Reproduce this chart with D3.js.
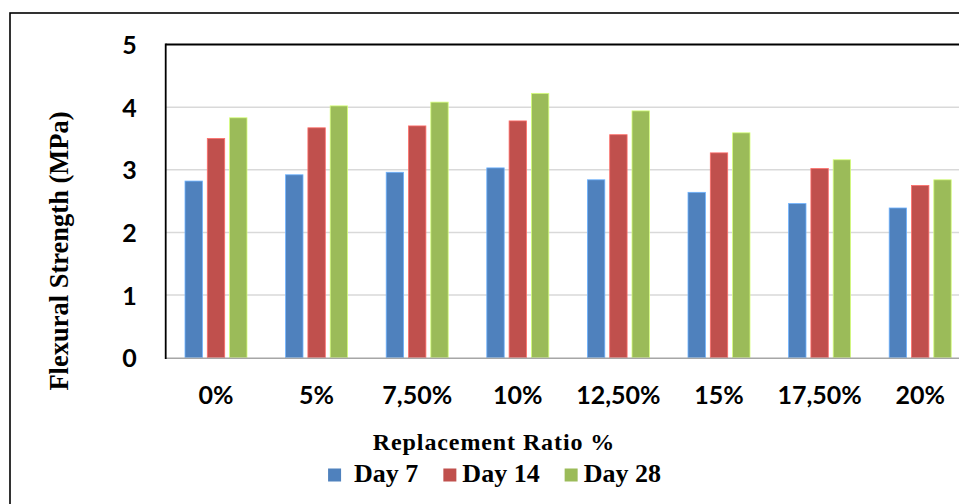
<!DOCTYPE html>
<html>
<head>
<meta charset="utf-8">
<script src="https://cdn.jsdelivr.net/npm/d3@7"></script>
<style>
  html, body { margin: 0; padding: 0; background: #fff; }
  svg { display: block; }
</style>
</head>
<body>
<svg id="chart" width="959" height="504"></svg>
<script>
// Replacement ratios (x categories)
const categories = ["0%", "5%", "7,50%", "10%", "12,50%", "15%", "17,50%", "20%"];
// Curing ages
const seriesNames = ["Day 7", "Day 14", "Day 28"];
// Flexural strength (MPa) per curing age
const day7  = [2.82, 2.92, 2.96, 3.03, 2.84, 2.64, 2.46, 2.39];
const day14 = [3.50, 3.67, 3.70, 3.78, 3.56, 3.27, 3.02, 2.75];
const day28 = [3.83, 4.02, 4.08, 4.22, 3.94, 3.59, 3.16, 2.84];
const yTicks = [0, 1, 2, 3, 4, 5];
const colors = ["#4F81BD", "#C0504D", "#9BBB59"];

const seriesValues = [day7, day14, day28];
const rows = categories.map((c, i) => ({
  cat: c,
  vals: seriesNames.map((s, k) => ({ series: s, k, value: seriesValues[k][i] }))
}));

const svg = d3.select("#chart");
const W = 959, H = 504;

// outer chart frame (runs past the right and bottom edges)
svg.append("rect")
  .attr("x", 10).attr("y", 13)
  .attr("width", W + 20).attr("height", H + 20)
  .attr("fill", "#fff").attr("stroke", "#000").attr("stroke-width", 1.6);

const plot = { left: 165.7, top: 44.5, right: 970.5, bottom: 357.7 };

const x0 = d3.scaleBand().domain(categories).range([plot.left, plot.right]).padding(0);
const groupW = 62;
const x1 = d3.scaleBand().domain(seriesNames)
  .range([(x0.bandwidth() - groupW) / 2, (x0.bandwidth() + groupW) / 2])
  .paddingInner(0.22).paddingOuter(0);
const y = d3.scaleLinear().domain([0, 5]).range([plot.bottom, plot.top]);

// gridlines
svg.append("g")
  .selectAll("line")
  .data(yTicks.filter(t => t > 0 && t < 5))
  .join("line")
  .attr("x1", plot.left).attr("x2", plot.right)
  .attr("y1", d => y(d)).attr("y2", d => y(d))
  .attr("stroke", "#d9d9d9").attr("stroke-width", 1.5);

// bars
const groups = svg.append("g")
  .selectAll("g")
  .data(rows)
  .join("g")
  .attr("transform", d => `translate(${x0(d.cat)},0)`);

groups.selectAll("rect")
  .data(d => d.vals)
  .join("rect")
  .attr("x", d => x1(d.series))
  .attr("y", d => y(d.value))
  .attr("width", x1.bandwidth())
  .attr("height", d => y(0) - y(d.value))
  .attr("fill", d => colors[d.k])
  .attr("stroke", d => d3.color(colors[d.k]).brighter(0.9))
  .attr("stroke-width", 0.8);

// plot frame: top and left dark, baseline grey
svg.append("line")
  .attr("x1", plot.left).attr("x2", plot.right)
  .attr("y1", plot.top).attr("y2", plot.top)
  .attr("stroke", "#000").attr("stroke-width", 1.8);
svg.append("line")
  .attr("x1", plot.left).attr("x2", plot.right)
  .attr("y1", plot.bottom + 0.5).attr("y2", plot.bottom + 0.5)
  .attr("stroke", "#a6a6a6").attr("stroke-width", 1.6);
svg.append("line")
  .attr("x1", plot.left).attr("x2", plot.left)
  .attr("y1", plot.top - 0.9).attr("y2", plot.bottom + 1.3)
  .attr("stroke", "#000").attr("stroke-width", 1.8);

// y axis labels
const yAxis = d3.axisLeft(y).tickValues(yTicks).tickSize(0).tickPadding(29).tickFormat(d3.format("d"));
const gy = svg.append("g").attr("transform", `translate(${plot.left},0)`).call(yAxis);
gy.select(".domain").remove();
gy.selectAll("text")
  .attr("font-family", "Lato, 'Open Sans', sans-serif")
  .attr("font-weight", "bold").attr("font-size", 25).attr("fill", "#000")
  .attr("dy", "0.36em");

// x axis labels
const xAxis = d3.axisBottom(x0).tickSize(0).tickPadding(29);
const gx = svg.append("g").attr("transform", `translate(0,${plot.bottom})`).call(xAxis);
gx.select(".domain").remove();
gx.selectAll("text")
  .attr("font-family", "Lato, 'Open Sans', sans-serif")
  .attr("font-weight", "bold").attr("font-size", 25).attr("fill", "#000")
  .attr("dy", "0.71em");

// axis titles
svg.append("text")
  .attr("transform", "translate(68,251) rotate(-90)")
  .attr("text-anchor", "middle")
  .attr("font-family", "'Liberation Serif', 'Times New Roman', serif")
  .attr("font-weight", "bold").attr("font-size", 26.5)
  .text("Flexural Strength (MPa)");

svg.append("text")
  .attr("x", 494).attr("y", 450)
  .attr("text-anchor", "middle")
  .attr("font-family", "'Liberation Serif', 'Times New Roman', serif")
  .attr("font-weight", "bold").attr("font-size", 24)
  .attr("letter-spacing", 0.9)
  .text("Replacement Ratio %");

// legend
const legend = svg.append("g");
const items = legend.selectAll("g").data(seriesNames).join("g");
items.append("rect")
  .attr("width", 13).attr("height", 13)
  .attr("y", 468.5)
  .attr("fill", (d, i) => colors[i]);
items.append("text")
  .attr("y", 482)
  .attr("font-family", "'Liberation Serif', 'Times New Roman', serif")
  .attr("font-weight", "bold").attr("font-size", 26)
  .text(d => d);

// lay legend entries out in a row, centred under the plot
const sq = 13, gapText = [13, 6, 6], gapItem = 25;
let cursor = 0;
const offsets = [];
items.each(function (d, i) {
  const tw = d3.select(this).select("text").node().getComputedTextLength();
  offsets.push(cursor);
  d3.select(this).select("text").attr("x", sq + gapText[i]);
  cursor += sq + gapText[i] + tw + gapItem;
});
const total = cursor - gapItem;
const startX = 494.5 - total / 2;
items.attr("transform", (d, i) => `translate(${startX + offsets[i]},0)`);
</script>
</body>
</html>
